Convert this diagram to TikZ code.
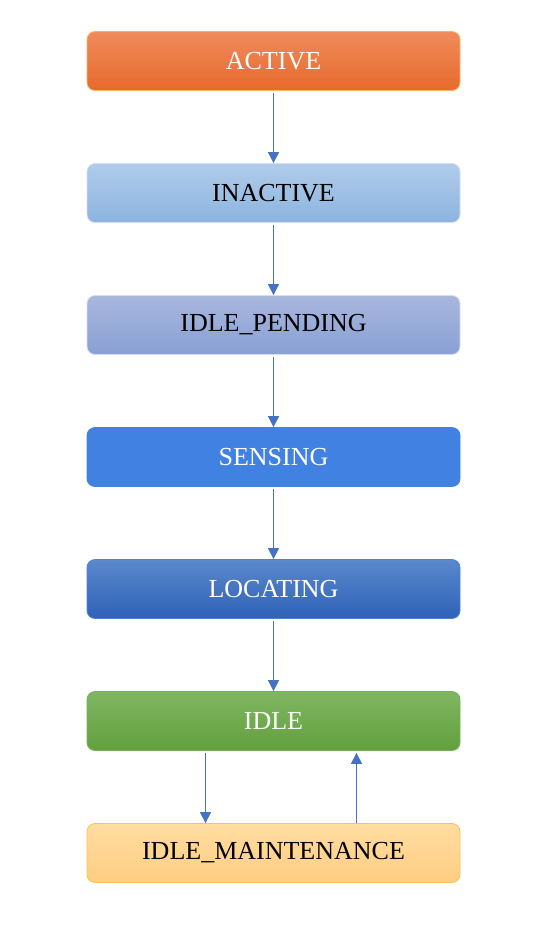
\documentclass[tikz,border=0pt]{standalone}
\usepackage{fontspec}
\setmainfont{Liberation Serif}
\usetikzlibrary{positioning,arrows.meta}
\definecolor{arrblue}{HTML}{4472C4}
\tikzset{
  state/.style={draw, line width=0.8pt, rounded corners=8pt, minimum width=373pt, minimum height=59pt,
    font=\fontsize{26}{30}\selectfont, inner sep=0pt},
  arr/.style={draw=arrblue, line width=1.2pt, -{Triangle[length=11pt,width=11pt]}}
}
\begin{document}
\begin{tikzpicture}[x=1pt,y=1pt,node distance=72.2pt]
  \useasboundingbox (0,0) rectangle (550,-938);
  \node[state, draw=orange!60!white, top color={rgb,255:red,240;green,139;blue,92}, bottom color={rgb,255:red,230;green,106;blue,44}, text=white] (active) at (273.5,-61) {ACTIVE};
  \node[state, below=of active, draw=white!85!blue, top color={rgb,255:red,176;green,204;blue,233}, bottom color={rgb,255:red,140;green,180;blue,224}] (inactive) {INACTIVE};
  \node[state, below=of inactive, draw=white!85!blue, top color={rgb,255:red,168;green,183;blue,221}, bottom color={rgb,255:red,137;green,160;blue,212}] (idlepending) {IDLE\_PENDING};
  \node[state, below=of idlepending, draw={rgb,255:red,70;green,130;blue,220}, fill={rgb,255:red,65;green,129;blue,225}, text=white] (sensing) {SENSING};
  \node[state, below=of sensing, draw={rgb,255:red,80;green,130;blue,200}, top color={rgb,255:red,92;green,136;blue,204}, bottom color={rgb,255:red,45;green,98;blue,184}, text=white] (locating) {LOCATING};
  \node[state, below=of locating, draw={rgb,255:red,120;green,175;blue,95}, top color={rgb,255:red,128;green,182;blue,98}, bottom color={rgb,255:red,98;green,160;blue,61}, text=white] (idle) {IDLE};
  \node[state, below=of idle, draw={rgb,255:red,250;green,195;blue,80}, top color={rgb,255:red,255;green,220;blue,162}, bottom color={rgb,255:red,254;green,206;blue,128}] (idlemaint) {IDLE\_MAINTENANCE};
  \draw[arr, shorten <=2pt] (active) -- (inactive);
  \draw[arr, shorten <=2pt] (inactive) -- (idlepending);
  \draw[arr, shorten <=2pt] (idlepending) -- (sensing);
  \draw[arr, shorten <=2pt] (sensing) -- (locating);
  \draw[arr, shorten <=2pt] (locating) -- (idle);
  \draw[arr, shorten <=2pt] ([xshift=-68pt]idle.south) -- ([xshift=-68pt]idlemaint.north);
  \draw[arr, shorten >=2pt] ([xshift=83pt]idlemaint.north) -- ([xshift=83pt]idle.south);
\end{tikzpicture}
\end{document}
